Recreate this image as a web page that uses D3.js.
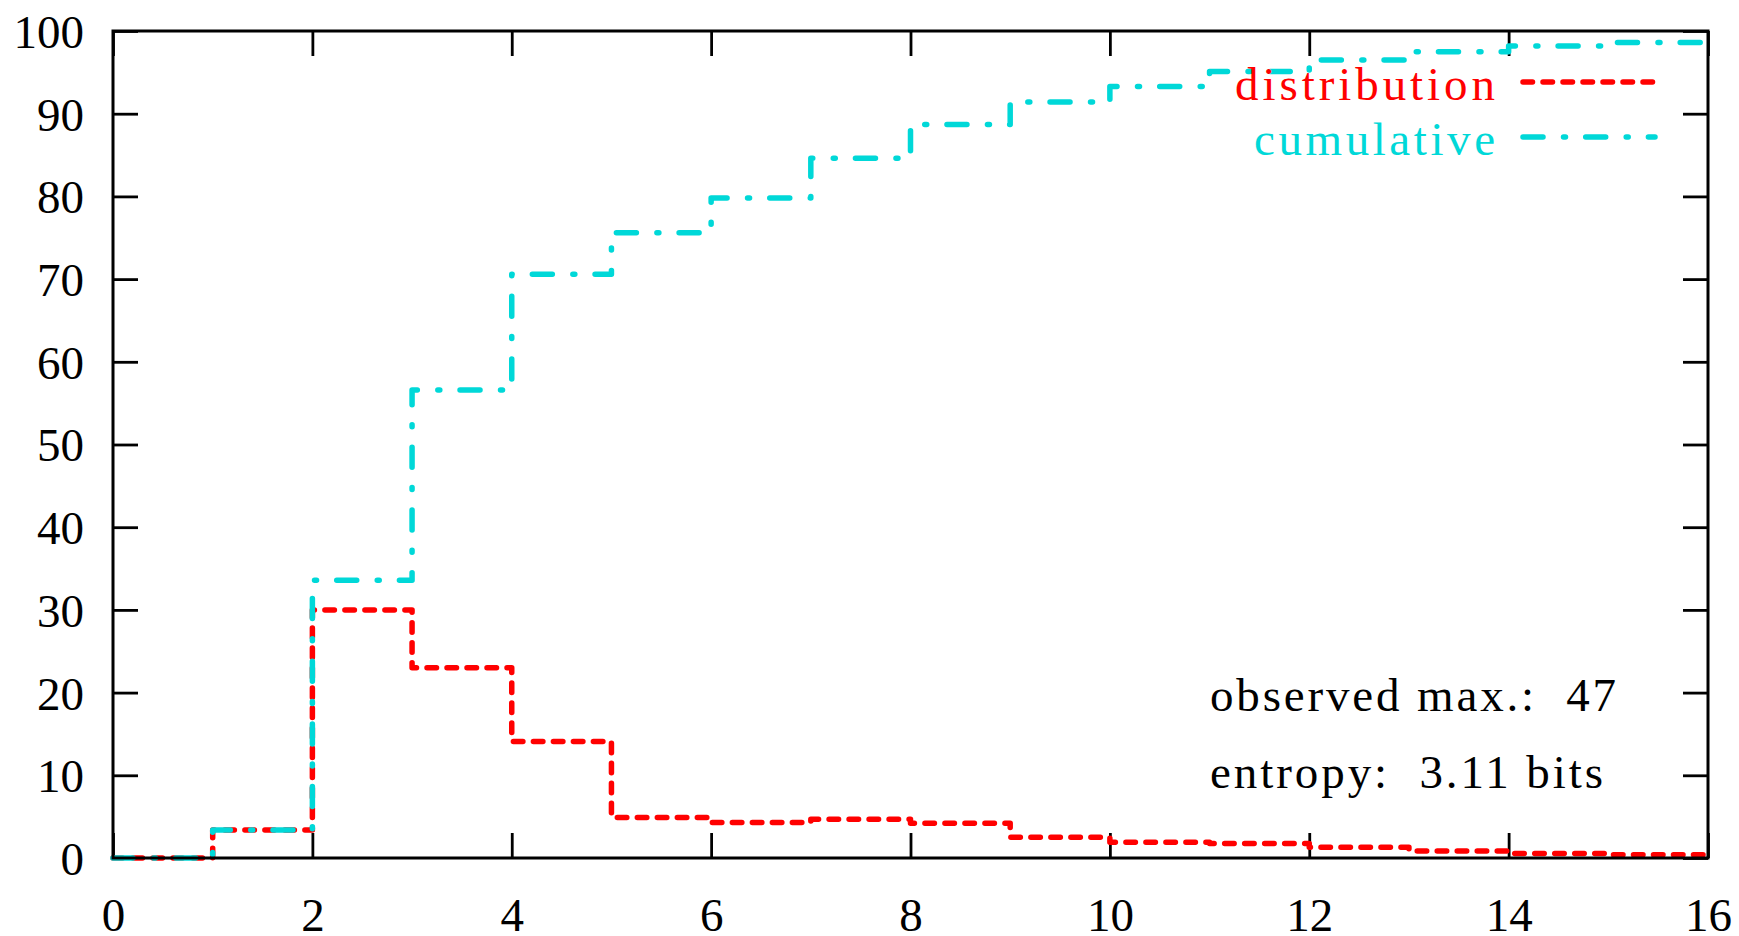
<!DOCTYPE html>
<html>
<head>
<meta charset="utf-8">
<script src="https://cdn.jsdelivr.net/npm/d3@7"></script>
<style>
  html, body { margin: 0; padding: 0; background: #fff; }
  svg { display: block; }
  text { font-family: "Liberation Serif", "DejaVu Serif", serif; }
</style>
</head>
<body>
<svg id="chart" width="1739" height="936"></svg>
<script>
// ---- data ----
const bins = d3.range(0, 16);                 // left edges of the steps 0..15
const distribution = [0, 3.4, 30.0, 23.0, 14.1, 4.9, 4.3, 4.7, 4.2, 2.5, 1.9, 1.75, 1.3, 0.85, 0.55, 0.4];
const cumulative   = [0, 3.4, 33.6, 56.6, 70.6, 75.6, 79.8, 84.6, 88.7, 91.4, 93.3, 95.1, 96.5, 97.5, 98.2, 98.6];
const xTicks = [0, 2, 4, 6, 8, 10, 12, 14, 16];
const yTicks = [0, 10, 20, 30, 40, 50, 60, 70, 80, 90, 100];
const seriesNames = ["distribution", "cumulative"];
const notes = ["observed max.:  47", "entropy:  3.11 bits"];

// ---- layout ----
const pLeft = 113, pRight = 1708, pTop = 31, pBottom = 858;
const svg = d3.select("#chart");
const x = d3.scaleLinear().domain([0, 16]).range([pLeft, pRight]);
const y = d3.scaleLinear().domain([0, 100]).range([pBottom, pTop]);
const fontSize = 47;
const red = "#ff0000", cyan = "#00d8d8";

// axes
const tickLen = 25;
function styleAxis(g) {
  g.select(".domain").remove();
  g.selectAll(".tick line").attr("stroke", "#000").attr("stroke-width", 2.8);
  g.selectAll(".tick text").attr("fill", "#000").style("font-size", fontSize + "px")
    .style("font-family", '"Liberation Serif", serif');
}
svg.append("g").attr("transform", `translate(0,${pBottom})`)
  .call(d3.axisBottom(x).tickValues(xTicks).tickFormat(d3.format("d")).tickSizeInner(-tickLen).tickSizeOuter(0).tickPadding(40))
  .call(styleAxis);
svg.append("g").attr("transform", `translate(0,${pTop})`)
  .call(d3.axisTop(x).tickValues(xTicks).tickFormat("").tickSizeInner(-tickLen).tickSizeOuter(0))
  .call(styleAxis);
svg.append("g").attr("transform", `translate(${pLeft},0)`)
  .call(d3.axisLeft(y).tickValues(yTicks).tickFormat(d3.format("d")).tickSizeInner(-tickLen).tickSizeOuter(0).tickPadding(29))
  .call(styleAxis)
  .call(g => g.selectAll(".tick text").attr("dy", "0.35em"));
svg.append("g").attr("transform", `translate(${pRight},0)`)
  .call(d3.axisRight(y).tickValues(yTicks).tickFormat("").tickSizeInner(-tickLen).tickSizeOuter(0))
  .call(styleAxis);

// step lines
function stepPoints(vals) {
  const pts = bins.map((b, i) => [b, vals[i]]);
  pts.push([16, vals[vals.length - 1]]);
  return pts;
}
const line = d3.line().x(d => x(d[0])).y(d => y(d[1])).curve(d3.curveStepAfter);
const redDash = "9.5,10.5";
const cyanDash = "20,20.5,2,20.2";

svg.append("path").datum(stepPoints(distribution))
  .attr("d", line).attr("fill", "none").attr("stroke", red).attr("stroke-width", 5.5)
  .attr("stroke-dasharray", redDash).attr("stroke-linecap", "round").attr("stroke-linejoin", "round");
svg.append("path").datum(stepPoints(cumulative))
  .attr("d", line).attr("fill", "none").attr("stroke", cyan).attr("stroke-width", 5.5)
  .attr("stroke-dasharray", cyanDash).attr("stroke-linecap", "round").attr("stroke-linejoin", "round");

// border
svg.append("rect").attr("x", pLeft).attr("y", pTop).attr("width", pRight - pLeft).attr("height", pBottom - pTop)
  .attr("fill", "none").attr("stroke", "#000").attr("stroke-width", 3);

// legend
const legend = [
  { name: seriesNames[0], color: red, dash: redDash, base: 100, width: 260 },
  { name: seriesNames[1], color: cyan, dash: cyanDash, base: 155, width: 241 }
];
legend.forEach(l => {
  svg.append("text").attr("x", 1495).attr("y", l.base).attr("text-anchor", "end")
    .attr("fill", l.color).style("font-size", fontSize + "px")
    .attr("textLength", l.width).attr("lengthAdjust", "spacing").text(l.name);
  svg.append("line").attr("x1", 1523).attr("x2", 1655).attr("y1", l.base - 18).attr("y2", l.base - 18)
    .attr("stroke", l.color).attr("stroke-width", 5.5).attr("stroke-dasharray", l.dash)
    .attr("stroke-linecap", "round");
});

// annotations
const noteLayout = [{ base: 711, width: 406 }, { base: 788, width: 393 }];
notes.forEach((t, i) => {
  svg.append("text").attr("x", 1210).attr("y", noteLayout[i].base)
    .attr("fill", "#000").style("font-size", fontSize + "px")
    .attr("textLength", noteLayout[i].width).attr("lengthAdjust", "spacing")
    .style("white-space", "pre").text(t);
});
</script>
</body>
</html>
